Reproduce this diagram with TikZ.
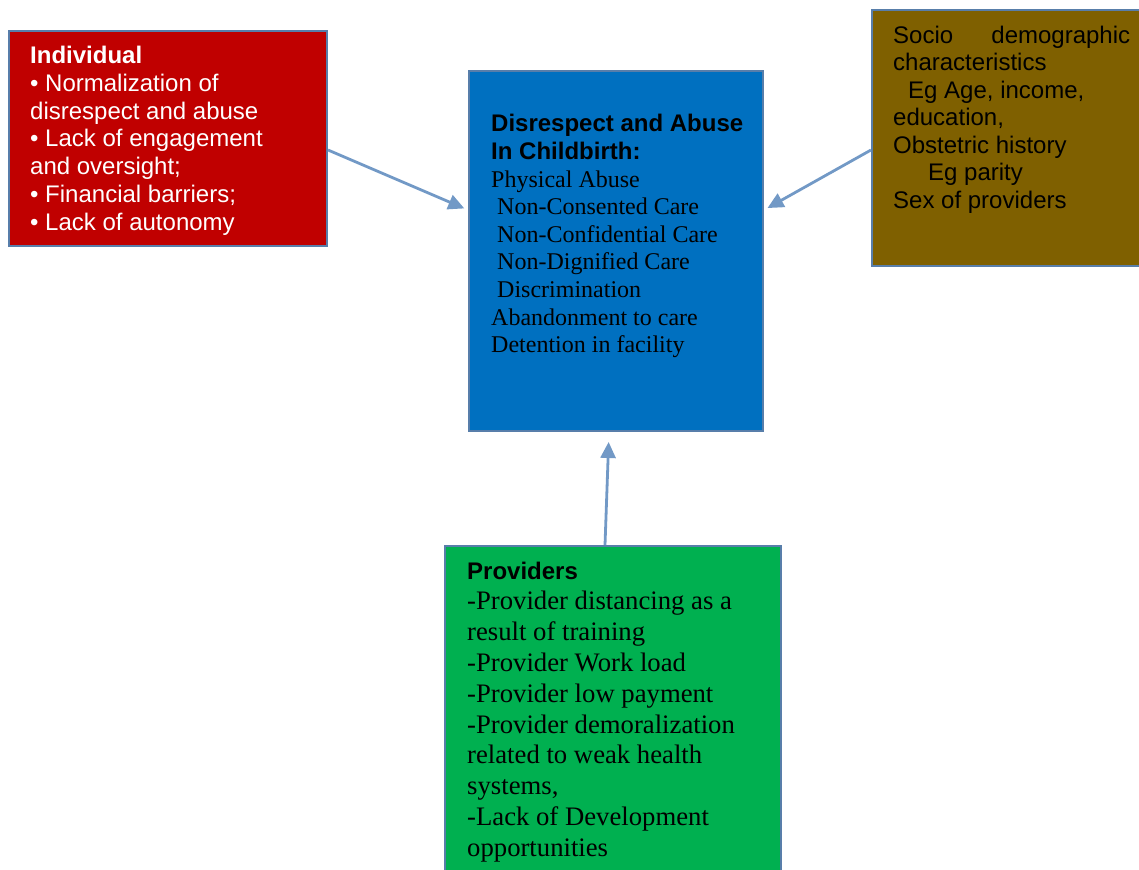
\documentclass[tikz,border=0pt]{standalone}
\usepackage{fontspec}
\setmainfont{Liberation Serif}
\setsansfont{Liberation Sans}
\usetikzlibrary{shapes,arrows,arrows.meta}
\definecolor{boxred}{RGB}{192, 0, 0}
\definecolor{boxblue}{RGB}{0, 112, 192}
\definecolor{boxbrown}{RGB}{127, 96, 0}
\definecolor{boxgreen}{RGB}{0, 176, 80}
\definecolor{edgeblue}{RGB}{88, 126, 170}
\definecolor{arrowblue}{RGB}{114, 153, 198}

\begin{document}
\begin{tikzpicture}[x=1pt,y=-1pt]

\tikzstyle{box} = [draw=edgeblue, line width=2, inner sep=0]
\tikzstyle{txt} = [anchor=base west, inner sep=0]
\tikzstyle{link} = [-{Triangle[length=16pt,width=15pt]}, draw=arrowblue, fill=arrowblue, line width=2.8]

\clip (0,0) rectangle (1139,869);

\node [box, fill=boxred, minimum width=318, minimum height=215] (red) at (168,138.5) {};
\node [box, fill=boxblue, minimum width=294, minimum height=360] (blue) at (616,251) {};
\node [box, fill=boxbrown, minimum width=278, minimum height=256] (brown) at (1011,138) {};
\node [box, fill=boxgreen, minimum width=336, minimum height=334] (green) at (613,713) {};



\node [txt, text=white] (redtxt) at (30,63.5) {\sffamily\fontsize{24}{27.8}\selectfont
\begin{tabular}[t]{@{}l@{}} \textbf{Individual}\\ • Normalization of\\ disrespect and abuse\\
• Lack of engagement\\ and oversight;\\ • Financial barriers;\\ • Lack of autonomy\end{tabular}};


\node [txt] (bluetxt) at (491,132) {\fontsize{24}{27.6}\selectfont
\begin{tabular}[t]{@{}l@{}} \sffamily\bfseries Disrespect and Abuse\\ \sffamily\bfseries In Childbirth:\\
Physical Abuse\\ \hspace{6pt}Non-Consented Care\\ \hspace{6pt}Non-Confidential Care\\
\hspace{6pt}Non-Dignified Care\\ \hspace{6pt}Discrimination\\ Abandonment to care\\ Detention in facility\end{tabular}};


\node [txt] (browntxt) at (893,43.5) {\sffamily\fontsize{24}{27.5}\selectfont
\begin{tabular}[t]{@{}l@{}} \makebox[237pt][s]{Socio demographic}\\ characteristics\\
\hspace{15pt}Eg Age, income,\\ education,\\ Obstetric history\\ \hspace{35pt}Eg parity\\ Sex of providers\end{tabular}};


\node [txt] (greentxt) at (467,579) {\fontsize{26.7}{30.8}\selectfont
\begin{tabular}[t]{@{}l@{}} \sffamily\bfseries\fontsize{24}{30.8}\selectfont Providers\\
-Provider distancing as a\\ result of training\\ -Provider Work load\\ -Provider low payment\\
-Provider demoralization\\ related to weak health\\ systems,\\ -Lack of Development\\ opportunities\end{tabular}};



\draw [link, shorten >=4] ([yshift=-11.5]red.east) -- ([yshift=41]blue.west);
\draw [link, shorten >=4] ([yshift=-12]brown.west) -- ([yshift=41]blue.east);
\draw [link, shorten >=10] ([xshift=-8]green.north) -- ([xshift=-7]blue.south);

\end{tikzpicture}
\end{document}
